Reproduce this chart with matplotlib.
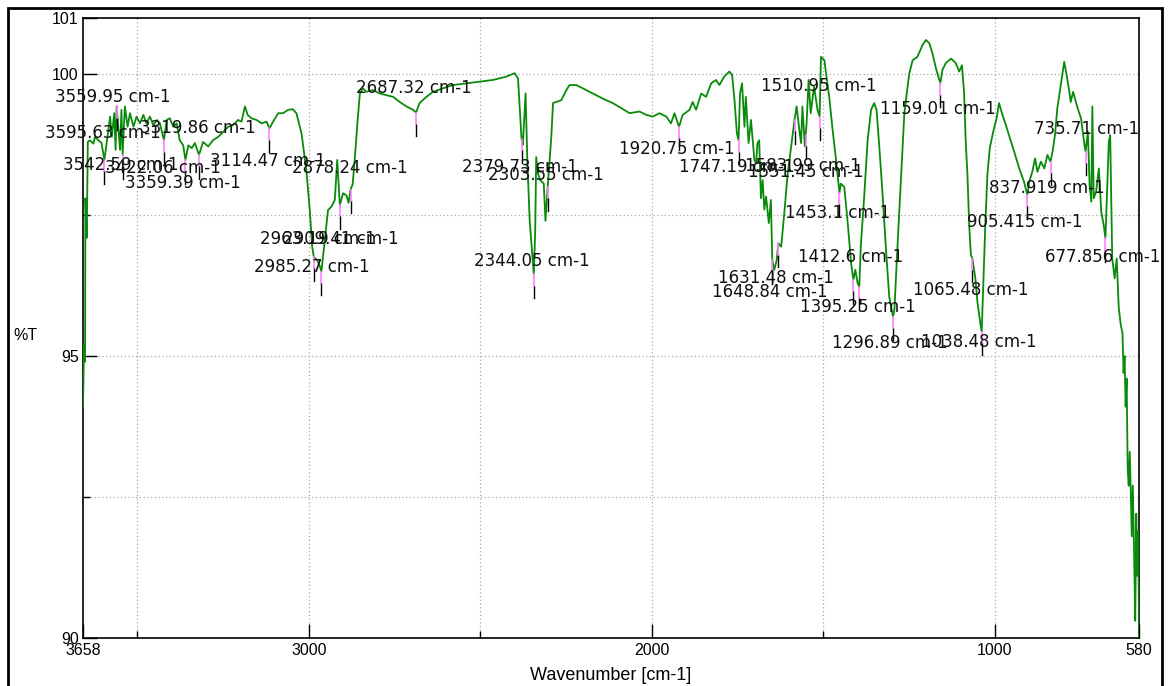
import numpy as np
import matplotlib
matplotlib.use("Agg")
import matplotlib.pyplot as plt
from matplotlib.patches import Rectangle

# FT-IR transmittance spectrum (wavenumber in cm-1, transmittance in %T)
wavenumber = [
    3658, 3655, 3652, 3651, 3647, 3644, 3638, 3628, 3623, 3613, 3604, 3595.63, 3589,
    3579, 3574, 3567, 3563, 3559.95, 3550, 3546, 3542.59, 3536, 3528, 3521, 3511,
    3502, 3492, 3482, 3473, 3463, 3453, 3443, 3434, 3422.06, 3414, 3405, 3395, 3385,
    3376, 3366, 3359.39, 3351, 3341, 3332, 3319.86, 3308, 3293, 3279, 3264, 3249,
    3235, 3220, 3206, 3196, 3186, 3178, 3167, 3152, 3138, 3123, 3114.47, 3104, 3089,
    3075, 3060, 3046, 3036, 3021, 3007, 2997, 2990, 2985.27, 2975, 2968, 2963.19,
    2953, 2944, 2934, 2924, 2917, 2909.41, 2900, 2890, 2884, 2878.24, 2872, 2866,
    2859, 2851, 2842, 2832, 2813, 2793, 2774, 2754, 2735, 2715, 2696, 2687.32, 2677,
    2657, 2638, 2609, 2580, 2541, 2502, 2463, 2424, 2400, 2390, 2386, 2379.73, 2376,
    2372, 2368, 2363, 2356, 2344.05, 2340, 2337, 2332, 2325, 2315, 2310, 2303.55,
    2298, 2293, 2288, 2279, 2264, 2249, 2240, 2220, 2201, 2172, 2143, 2114, 2089,
    2065, 2036, 2016, 1997, 1978, 1958, 1944, 1934, 1920.75, 1910, 1890, 1881, 1871,
    1856, 1842, 1827, 1813, 1803, 1789, 1774, 1766, 1759, 1752, 1747.19, 1743, 1737,
    1730, 1726, 1718, 1711, 1701, 1696, 1692, 1687, 1682, 1677, 1672, 1667, 1659,
    1653, 1648.84, 1643, 1636, 1631.48, 1623, 1614, 1604, 1594, 1584, 1578, 1570,
    1565, 1561, 1554, 1549, 1543, 1537, 1527, 1517, 1510.95, 1507, 1497, 1491, 1483,
    1473, 1463, 1453.1, 1449, 1439, 1429, 1419, 1412.6, 1407, 1400, 1395.25, 1391,
    1381, 1371, 1361, 1352, 1345, 1337, 1327, 1318, 1308, 1296.89, 1293, 1284, 1274,
    1264, 1250, 1240, 1226, 1211, 1201, 1191, 1182, 1172, 1159.01, 1153, 1143, 1128,
    1114, 1104, 1096, 1090, 1085, 1080, 1075, 1070, 1065.48, 1057, 1051, 1043,
    1038.48, 1033, 1028, 1022, 1015, 1005, 995, 988, 978, 968, 959, 944, 929, 915,
    905.415, 900, 891, 883, 876, 866, 856, 847, 837.919, 832, 825, 818, 808, 798,
    791, 783, 779, 772, 764, 759, 749, 739, 735.71, 729, 724, 719, 716, 712, 705,
    697, 690, 683, 677.856, 668, 664, 658, 651, 645, 639, 633, 628, 625, 622, 619,
    616, 613, 610, 607, 604, 601, 598, 594, 591, 588, 585, 582, 580,
]
transmittance = [
    94.10, 95.20, 94.90, 97.80, 97.10, 98.80, 98.83, 98.77, 98.89, 98.83, 98.78, 98.48, 98.78,
    99.25, 98.89, 99.31, 98.66, 99.43, 98.66, 99.37, 98.57, 99.43, 99.07, 99.31, 99.07,
    99.25, 99.13, 99.28, 99.13, 99.25, 99.10, 99.19, 99.13, 98.83, 99.19, 99.22, 99.07, 99.13,
    98.83, 98.74, 98.48, 98.74, 98.69, 98.78, 98.57, 98.80, 98.72, 98.83, 98.89, 98.98,
    99.07, 99.10, 99.19, 99.16, 99.43, 99.28, 99.22, 99.19, 99.13, 99.16, 99.04, 99.16, 99.31,
    99.31, 99.37, 99.38, 99.31, 98.95, 98.30, 97.59, 96.94, 96.76, 96.70, 96.60, 96.50,
    97.06, 97.59, 97.65, 97.77, 98.48, 97.68, 97.89, 97.85, 97.72, 97.95, 98.05, 98.48,
    99.07, 99.66, 99.75, 99.69, 99.72, 99.66, 99.63, 99.60, 99.51, 99.43, 99.37, 99.32, 99.49,
    99.60, 99.69, 99.75, 99.81, 99.84, 99.87, 99.90, 99.96, 100.02, 99.93, 99.50, 98.85, 98.75,
    99.20, 99.66, 98.50, 97.40, 96.45, 97.20, 98.53, 98.24, 98.12, 98.06, 97.40, 98.00,
    98.48, 98.89, 99.49, 99.51, 99.54, 99.72, 99.81, 99.81, 99.75, 99.66, 99.57, 99.49, 99.40,
    99.31, 99.34, 99.28, 99.25, 99.31, 99.25, 99.13, 99.31, 99.07, 99.28, 99.37, 99.51, 99.37,
    99.66, 99.60, 99.84, 99.90, 99.81, 99.96, 100.05, 99.99, 99.54, 98.95, 98.83, 99.66, 99.84,
    99.07, 99.60, 98.78, 99.19, 98.48, 98.42, 98.78, 98.83, 97.80, 98.12, 97.60, 97.83, 97.36,
    97.77, 96.70, 96.53, 96.70, 97.00, 96.94, 97.53, 98.24, 98.72, 99.19, 99.43, 99.01,
    98.78, 99.43, 98.72, 99.13, 99.90, 99.31, 99.78, 99.37, 99.25, 100.31, 100.25, 99.96, 99.60,
    99.01, 98.48, 97.90, 98.06, 98.00, 97.36, 96.64, 96.35, 96.53, 96.29, 96.23, 96.94,
    97.83, 98.83, 99.37, 99.49, 99.37, 98.72, 97.83, 96.94, 96.05, 95.70, 95.82, 96.94, 98.12,
    99.31, 100.00, 100.25, 100.31, 100.52, 100.61, 100.55, 100.37, 100.11, 99.84, 100.08, 100.20, 100.28,
    100.20, 100.05, 100.16, 99.69, 98.80, 98.21, 97.33, 96.79, 96.73, 96.38, 95.96, 95.60,
    95.43, 96.44, 97.33, 98.21, 98.69, 98.98, 99.22, 99.49, 99.28, 99.10, 98.92, 98.63, 98.33, 98.09,
    97.86, 98.09, 98.27, 98.51, 98.27, 98.45, 98.33, 98.57, 98.45, 98.63, 98.92, 99.40, 99.81, 100.22,
    99.99, 99.69, 99.51, 99.69, 99.51, 99.40, 99.22, 98.75, 98.63, 98.98, 98.03, 97.74, 99.43, 97.80, 97.92,
    98.33, 97.56, 97.33, 97.09, 98.80, 98.92, 96.73, 96.38, 96.73, 95.85, 95.55, 95.40, 94.70, 95.00, 94.10,
    94.60, 93.00, 92.70, 93.30, 92.60, 91.80, 92.70, 91.40, 90.30, 92.20, 91.10, 91.90, 90.00,
]

# Picked peaks: wavenumber, label text, label centre (wavenumber, %T)
peak_wn = [3595.63, 3559.95, 3542.59, 3422.06, 3359.39, 3319.86, 3114.47, 2985.27,
           2963.19, 2909.41, 2878.24, 2687.32, 2379.73, 2344.05, 2303.55, 1920.75,
           1747.19, 1583.99, 1551.45, 1648.84, 1631.48, 1510.95, 1453.1, 1412.6,
           1395.25, 1296.89, 1159.01, 1065.48, 1038.48, 905.415, 837.919, 735.71,
           677.856]
peak_text = ["3595.63 cm-1", "3559.95 cm-1", "3542.59 cm-1", "3422.06 cm-1",
             "3359.39 cm-1", "3319.86 cm-1", "3114.47 cm-1", "2985.27 cm-1",
             "2963.19 cm-1", "2909.41 cm-1", "2878.24 cm-1", "2687.32 cm-1",
             "2379.73 cm-1", "2344.05 cm-1", "2303.55 cm-1", "1920.75 cm-1",
             "1747.19 cm-1", "1583.99 cm-1", "1551.45 cm-1", "1648.84 cm-1",
             "1631.48 cm-1", "1510.95 cm-1", "1453.1 cm-1", "1412.6 cm-1",
             "1395.25 cm-1", "1296.89 cm-1", "1159.01 cm-1", "1065.48 cm-1",
             "1038.48 cm-1", "905.415 cm-1", "837.919 cm-1", "735.71 cm-1",
             "677.856 cm-1"]
label_wn = [3601, 3571, 3547, 3425, 3367, 3323, 3119, 2991,
            2974, 2907, 2880, 2694, 2385, 2351, 2310, 1928,
            1751, 1559, 1550, 1655, 1637, 1512, 1459, 1422,
            1398, 1305, 1165, 1069, 1046, 912, 848, 734,
            685]
label_t = [98.96, 99.60, 98.39, 98.34, 98.07, 99.05, 98.46, 96.58,
           97.08, 97.08, 98.34, 99.76, 98.35, 96.69, 98.21, 98.67,
           98.35, 98.37, 98.27, 96.13, 96.38, 99.79, 97.54, 96.76,
           95.87, 95.23, 99.38, 96.17, 95.25, 97.38, 97.98, 99.03,
           96.76]

x_ticks = [3658, 3000, 2000, 1000, 580]
y_ticks = [90, 95, 100, 101]

fig = plt.figure(figsize=(11.68, 6.86), dpi=100)
ax = fig.add_axes([83 / 1168, 1 - 637.7 / 686, (1139 - 83) / 1168, (637.7 - 18) / 686])

ax.set_xlim(3658, 580)
ax.set_ylim(90, 101)

# dotted grid every 500 cm-1 and 2.5 %T
for gx in [3500, 3000, 2500, 2000, 1500, 1000]:
    ax.axvline(gx, color="#a8a8a8", lw=0.9, ls=(0, (1, 2)), zorder=0)
for gy in [100, 97.5, 95, 92.5]:
    ax.axhline(gy, color="#a8a8a8", lw=0.9, ls=(0, (1, 2)), zorder=0)

ax.plot(wavenumber, transmittance, color="#0a8a0a", lw=1.3, zorder=3)

# peak markers and labels
wn_asc = np.array(wavenumber)[::-1]
t_asc = np.array(transmittance)[::-1]
for pw, txt, lx, ly in zip(peak_wn, peak_text, label_wn, label_t):
    pt = float(np.interp(pw, wn_asc, t_asc))
    ax.plot([pw, pw], [pt - 0.2, pt - 0.42], color="black", lw=1.0, zorder=4)
    ax.plot([pw, pw], [pt, pt - 0.2], color="#ff80ff", lw=1.2, zorder=5)
    ax.text(lx, ly, txt, ha="center", va="center", fontsize=12,
            family="DejaVu Sans", color="#111111", zorder=6)

ax.set_xticks(x_ticks)
ax.set_xticklabels([str(v) for v in x_ticks])
ax.set_xticks([3500, 2500, 1500], minor=True)
ax.set_yticks(y_ticks)
ax.set_yticklabels([str(v) for v in y_ticks])
ax.set_yticks([97.5, 92.5], minor=True)
ax.tick_params(axis="both", which="major", direction="in", length=10, width=1,
               labelsize=11.5, pad=3)
ax.tick_params(axis="both", which="minor", direction="in", length=5, width=1)
ax.tick_params(axis="x", pad=4)
for lab in ax.get_xticklabels() + ax.get_yticklabels():
    lab.set_family("Liberation Sans")

for s in ax.spines.values():
    s.set_color("black")
    s.set_linewidth(1.2)

ax.set_xlabel("Wavenumber [cm-1]", fontsize=13, family="Liberation Sans", va="center")
ax.xaxis.set_label_coords(0.5, -0.0618)
fig.text(25 / 1168, 1 - 335 / 686, "%T", fontsize=11.5, family="Liberation Sans",
         ha="center", va="center")

# outer frame
fig.patches.append(Rectangle((8 / 1168, -0.05), (1162 - 8) / 1168, 1.05 - 8 / 686,
                             transform=fig.transFigure, fill=False,
                             edgecolor="black", lw=2))

fig.savefig("out.png", dpi=100)
